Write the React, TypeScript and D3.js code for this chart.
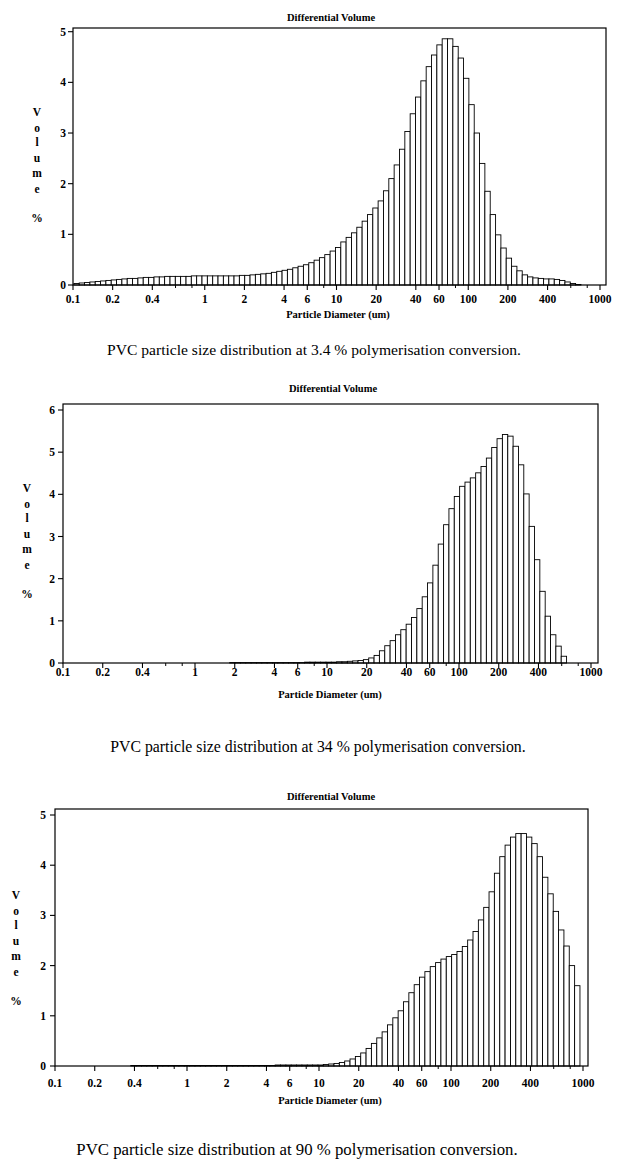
import React from 'react';
import * as d3 from 'd3';

// Instrument size channels (lower edges, µm) — bar i spans channels[i]..channels[i+1]
const channels = [
  0.1016, 0.1115, 0.1224, 0.1344, 0.1475, 0.1619, 0.1777, 0.1951, 0.2141, 0.235,
  0.258, 0.2832, 0.3109, 0.3413, 0.375, 0.412, 0.452, 0.496, 0.545, 0.598,
  0.656, 0.721, 0.791, 0.868, 0.953, 1.047, 1.149, 1.261, 1.385, 1.52,
  1.668, 1.832, 2.011, 2.207, 2.423, 2.66, 2.92, 3.205, 3.519, 3.863,
  4.24, 4.655, 5.11, 5.61, 6.158, 6.76, 7.421, 8.147, 8.943, 9.817,
  10.78, 11.83, 12.99, 14.26, 15.65, 17.18, 18.86, 20.7, 22.73, 24.95,
  27.39, 30.07, 33.01, 36.24, 39.78, 43.67, 47.94, 52.62, 57.77, 63.41,
  69.61, 76.42, 83.9, 92.1, 101.1, 111.0, 121.8, 133.7, 146.8, 161.2,
  176.9, 194.2, 213.2, 234.1, 256.9, 282.1, 309.6, 339.9, 373.1, 409.6,
  449.7, 493.6, 541.9, 594.9, 653.0, 716.9, 786.9, 863.9, 948.3, 1041,
];

// Differential volume % — 3.4 % conversion
const volume34 = [
  0.03, 0.04, 0.05, 0.06, 0.07, 0.08, 0.09, 0.1, 0.11, 0.12,
  0.13, 0.13, 0.14, 0.15, 0.15, 0.16, 0.16, 0.17, 0.17, 0.17,
  0.17, 0.17, 0.18, 0.18, 0.18, 0.18, 0.18, 0.18, 0.18, 0.18,
  0.18, 0.19, 0.19, 0.2, 0.21, 0.22, 0.23, 0.25, 0.27, 0.29,
  0.31, 0.34, 0.37, 0.4, 0.44, 0.49, 0.54, 0.6, 0.67, 0.74,
  0.85, 0.94, 1.03, 1.14, 1.26, 1.39, 1.52, 1.66, 1.86, 2.1,
  2.37, 2.68, 3.03, 3.38, 3.71, 4.03, 4.31, 4.54, 4.74, 4.86,
  4.86, 4.71, 4.48, 4.08, 3.56, 3.0, 2.4, 1.85, 1.39, 0.99,
  0.73, 0.53, 0.37, 0.28, 0.2, 0.16, 0.14, 0.13, 0.12, 0.12,
  0.11, 0.09, 0.06, 0.03, 0.01,
];

// 34 % conversion
const volume340 = [
  0, 0, 0, 0, 0, 0, 0, 0, 0, 0,
  0, 0, 0, 0, 0, 0, 0, 0, 0, 0,
  0, 0, 0, 0, 0, 0, 0, 0, 0, 0,
  0, 0.01, 0.01, 0.01, 0.01, 0.01, 0.01, 0.01, 0.01, 0.01,
  0.01, 0.01, 0.01, 0.01, 0.01, 0.02, 0.02, 0.02, 0.02, 0.02,
  0.02, 0.03, 0.03, 0.04, 0.05, 0.06, 0.08, 0.12, 0.18, 0.29,
  0.41, 0.53, 0.67, 0.79, 0.92, 1.08, 1.29, 1.57, 1.9, 2.32,
  2.82, 3.28, 3.66, 3.95, 4.19, 4.29, 4.39, 4.51, 4.66, 4.86,
  5.11, 5.32, 5.42, 5.38, 5.14, 4.7, 4.01, 3.24, 2.45, 1.7,
  1.11, 0.67, 0.4, 0.16,
];

// 90 % conversion
const volume90 = [
  0, 0, 0, 0, 0, 0, 0, 0, 0, 0,
  0, 0, 0, 0, 0.01, 0.01, 0.01, 0.01, 0.01, 0.01,
  0.01, 0.01, 0.01, 0.01, 0.01, 0.01, 0.01, 0.01, 0.01, 0.01,
  0.01, 0.01, 0.01, 0.01, 0.01, 0.01, 0.01, 0.01, 0.01, 0.01,
  0.01, 0.02, 0.02, 0.02, 0.02, 0.02, 0.02, 0.02, 0.02, 0.02,
  0.03, 0.04, 0.05, 0.07, 0.1, 0.14, 0.19, 0.26, 0.35, 0.45,
  0.56, 0.68, 0.82, 0.96, 1.1, 1.28, 1.46, 1.62, 1.77, 1.88,
  1.98, 2.06, 2.13, 2.18, 2.22, 2.28, 2.38, 2.51, 2.68, 2.91,
  3.16, 3.47, 3.84, 4.17, 4.4, 4.56, 4.63, 4.63, 4.56, 4.43,
  4.17, 3.76, 3.43, 3.08, 2.71, 2.39, 2.0, 1.6,
];

const xTicks = [0.1, 0.2, 0.4, 1, 2, 4, 6, 10, 20, 40, 60, 100, 200, 400, 1000];
const xMinorTicks = [0.6, 0.8, 8, 80, 600, 800];
const yTicks5 = [0, 1, 2, 3, 4, 5];
const yTicks6 = [0, 1, 2, 3, 4, 5, 6];
const yLabelLetters = ['V', 'o', 'l', 'u', 'm', 'e', '%'];
const chartTitle = 'Differential Volume';
const xAxisTitle = 'Particle Diameter (um)';
const captions = [
  'PVC particle size distribution at 3.4 % polymerisation conversion.',
  'PVC particle size distribution at 34 % polymerisation conversion.',
  'PVC particle size distribution at 90 % polymerisation conversion.',
];

const SERIF = '"Liberation Serif", "DejaVu Serif", serif';
const letterOffsets = [0, 15.5, 30, 45.5, 61, 77, 106];

type Layout = {
  x0: number; x1: number; right: number; base: number; yTop: number; boxTop: number;
  titleX: number; titleY: number; xTitleX: number; xTitleY: number; xLabY: number;
  yLabX: number; yLabY: number; yTickLabX: number;
  capX: number; capY: number; capSize: number;
};

const layouts: Layout[] = [
  { x0: 73, x1: 600, right: 606, base: 285, yTop: 31.7, boxTop: 28, titleX: 331, titleY: 21,
    xTitleX: 338, xTitleY: 318, xLabY: 303, yLabX: 37, yLabY: 112, yTickLabX: 66,
    capX: 314, capY: 355, capSize: 15.6 },
  { x0: 63, x1: 591, right: 598, base: 663, yTop: 410, boxTop: 404, titleX: 333, titleY: 392,
    xTitleX: 330, xTitleY: 698, xLabY: 676, yLabX: 27, yLabY: 488, yTickLabX: 55,
    capX: 318, capY: 752, capSize: 15.8 },
  { x0: 55, x1: 583, right: 588, base: 1066, yTop: 815, boxTop: 809, titleX: 331, titleY: 800,
    xTitleX: 330, xTitleY: 1104, xLabY: 1087, yLabX: 16, yLabY: 895, yTickLabX: 46,
    capX: 297, capY: 1155, capSize: 16.8 },
];

function Chart({ values, yTicks, L, caption }: { values: number[]; yTicks: number[]; L: Layout; caption: string }) {
  const yMax = yTicks[yTicks.length - 1];
  const x = d3.scaleLog().domain([0.1, 1000]).range([L.x0, L.x1]);
  const y = d3.scaleLinear().domain([0, yMax]).range([L.base, L.yTop]);
  const bars = values
    .map((v, i) => ({ v, lo: channels[i], hi: channels[i + 1] }))
    .filter((b) => b.v > 0);
  return (
    <g>
      <text x={L.titleX} y={L.titleY} textAnchor="middle" fontFamily={SERIF} fontWeight="bold" fontSize={10.5}>
        {chartTitle}
      </text>
      {bars.map((b, i) => (
        <rect key={i} x={x(b.lo)} y={y(b.v)} width={x(b.hi) - x(b.lo)} height={L.base - y(b.v)}
          fill="#fff" stroke="#000" strokeWidth={0.9} />
      ))}
      <rect x={L.x0} y={L.boxTop} width={L.right - L.x0} height={L.base - L.boxTop}
        fill="none" stroke="#000" strokeWidth={1.2} />
      {yTicks.map((t) => (
        <g key={t}>
          <line x1={L.x0 - 5} x2={L.x0} y1={y(t)} y2={y(t)} stroke="#000" strokeWidth={1.1} />
          <text x={L.yTickLabX} y={y(t) + 4} textAnchor="end" fontFamily={SERIF} fontWeight="bold" fontSize={11.5}>
            {t}
          </text>
        </g>
      ))}
      {xTicks.map((t) => (
        <g key={t}>
          <line x1={x(t)} x2={x(t)} y1={L.base} y2={L.base + 5} stroke="#000" strokeWidth={1.1} />
          <text x={x(t)} y={L.xLabY} textAnchor="middle" fontFamily={SERIF} fontWeight="bold" fontSize={11.5}>
            {t}
          </text>
        </g>
      ))}
      {xMinorTicks.map((t) => (
        <line key={t} x1={x(t)} x2={x(t)} y1={L.base} y2={L.base + 3} stroke="#000" strokeWidth={1} />
      ))}
      <text x={L.xTitleX} y={L.xTitleY} textAnchor="middle" fontFamily={SERIF} fontWeight="bold" fontSize={10.5}>
        {xAxisTitle}
      </text>
      {yLabelLetters.map((c, i) => (
        <text key={i} x={L.yLabX} y={L.yLabY + letterOffsets[i] + 4} textAnchor="middle"
          fontFamily={SERIF} fontWeight="bold" fontSize={11.5}>
          {c}
        </text>
      ))}
      <text x={L.capX} y={L.capY} textAnchor="middle" fontFamily={SERIF} fontSize={L.capSize}>
        {caption}
      </text>
    </g>
  );
}

export default function App() {
  const series = [volume34, volume340, volume90];
  const ticks = [yTicks5, yTicks6, yTicks5];
  return (
    <svg width={623} height={1170} style={{ position: 'absolute', left: 0, top: 0, background: '#fff' }}>
      <rect x={0} y={0} width={623} height={1170} fill="#fff" />
      {series.map((s, i) => (
        <Chart key={i} values={s} yTicks={ticks[i]} L={layouts[i]} caption={captions[i]} />
      ))}
    </svg>
  );
}
